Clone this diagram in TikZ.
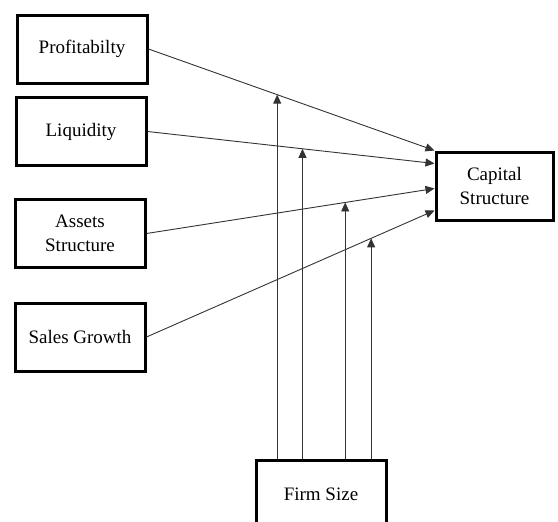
\documentclass[tikz,border=0pt]{standalone}
\usepackage{fontspec}
\setmainfont{Liberation Serif}
\usetikzlibrary{positioning,arrows.meta,calc}

\begin{document}
\begin{tikzpicture}[x=1pt, y=-1pt,
  var/.style={draw, line width=3pt, minimum width=130pt, minimum height=68pt,
              align=center, inner sep=0pt, font=\fontsize{19}{24}\selectfont},
  arr/.style={-{Triangle[length=9pt, width=8pt]}, line width=0.9pt, black!80}
]
  \useasboundingbox (0,0) rectangle (558,522);
  \clip (0,0) rectangle (558,522);

  % Independent variables (left column)
  \node[var] (prof)   at (82,49)    {Profitabilty};
  \node[var] (liq)    at (81,131.5) {Liquidity};
  \node[var] (assets) at (80,233.5) {Assets\\Structure};
  \node[var] (sales)  at (80,337)   {Sales Growth};

  % Dependent variable and moderator
  \node[var, minimum width=117pt] (cap)  at (494.5,186) {Capital\\Structure};
  \node[var]                      (firm) at (321,494)   {Firm Size};

  % Direct effects
  \draw[arr] (prof.east)   -- (cap.north west) coordinate[pos=0.45] (m1);
  \draw[arr] (liq.east)    -- ([yshift=-13pt]cap.north west) coordinate[pos=0.54] (m2);
  \draw[arr] (assets.east) -- ([yshift=-38pt]cap.north west) coordinate[pos=0.69] (m3);
  \draw[arr] (sales.east)  -- ([yshift=-60pt]cap.north west) coordinate[pos=0.78] (m4);

  % Moderating effects of firm size
  \draw[arr] (m1 |- firm.north) -- (m1);
  \draw[arr] (m2 |- firm.north) -- (m2);
  \draw[arr] (m3 |- firm.north) -- (m3);
  \draw[arr] (m4 |- firm.north) -- (m4);
\end{tikzpicture}
\end{document}
